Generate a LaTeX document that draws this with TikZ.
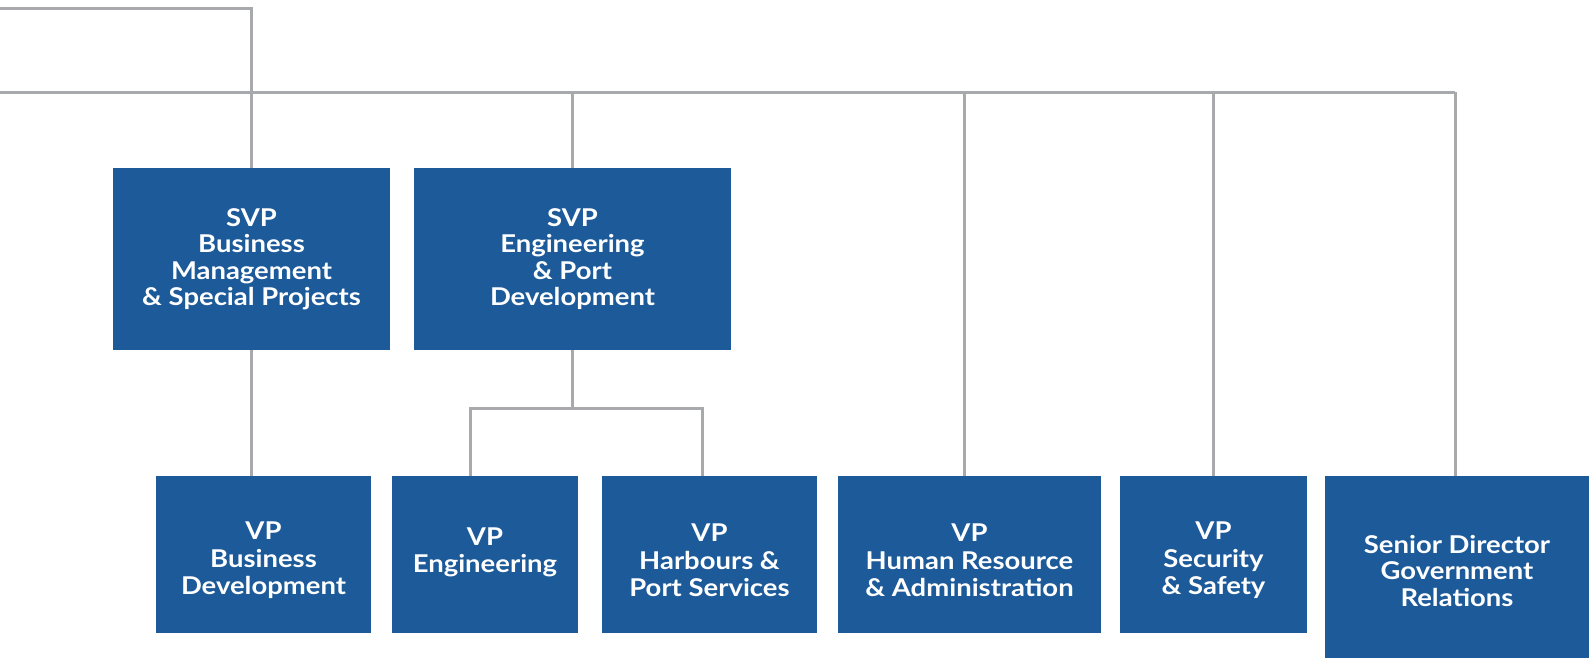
\documentclass[tikz,border=0pt]{standalone}
\usepackage{fontspec}
\setmainfont{Lato}[FakeStretch=1.12]
\definecolor{boxblue}{HTML}{1C5A99}
\definecolor{linegray}{HTML}{A7A9AC}
\newcommand\toppad[1]{\rule{0pt}{#1}}
\newcommand\botpad[1]{\rule[-#1]{0pt}{0pt}}
\begin{document}
\begin{tikzpicture}[x=1pt,y=-1pt,
  orgbox/.style={fill=boxblue, draw=none, text=white, inner sep=0pt, align=center,
    font=\fontsize{24.5}{26.5}\selectfont\bfseries},
  lowbox/.style={orgbox, minimum height=157pt,
    font=\fontsize{24.5}{27.5}\selectfont\bfseries},
  conn/.style={draw=linegray, line width=3pt}]
\useasboundingbox (0,0) rectangle (1591,665);
% nodes
\node[orgbox, minimum width=277pt, minimum height=182pt] (svp1) at (251.5,259) {SVP\\Business\\Management\\\& Special Projects};
\node[orgbox, minimum width=317pt, minimum height=182pt] (svp2) at (572.5,259) {SVP\\Engineering\\\& Port\\Development};
\node[lowbox, minimum width=215pt] (bd) at (263.5,554.5) {\toppad{29.5pt}VP\\Business\\Development};
\node[lowbox, minimum width=186pt] (eng) at (485,554.5) {VP\\Engineering\botpad{9pt}};
\node[lowbox, minimum width=215pt] (harb) at (709.5,554.5) {\toppad{29.5pt}VP\\Harbours \&\\Port Services};
\node[lowbox, minimum width=263pt] (hr) at (969.5,554.5) {\toppad{29.5pt}VP\\Human Resource\\\& Administration};
\node[lowbox, minimum width=187pt] (sec) at (1213.5,554.5) {\toppad{29.5pt}VP\\Security\\\& Safety};
\node[orgbox, minimum width=264pt, minimum height=182pt] (sd) at (1457,567) {\toppad{26pt}Senior Director\\Government\\Relations};
\coordinate (topL) at (0,8);
\coordinate (busL) at (0,92);
\coordinate (busR) at (1455,92);
\coordinate (subY) at (0,408);
% connectors
\draw[conn] (topL) -| (svp1.north);
\draw[conn] (svp1.south) -- (svp1.south |- bd.north);
\draw[conn] (busL) -- (busR);
\draw[conn] (svp2.north |- busL) -- (svp2.north);
\draw[conn] ([xshift=-5.5pt]hr.north |- busL) -- ([xshift=-5.5pt]hr.north);
\draw[conn] (sec.north |- busL) -- (sec.north);
\draw[conn] (busR) -- (busR |- sd.north);
\draw[conn] (svp2.south) -- (svp2.south |- subY);
\draw[conn] ([xshift=-15pt]eng.north) -- ([xshift=-15pt]eng.north |- subY) -- ([xshift=-7.5pt]harb.north |- subY) -- ([xshift=-7.5pt]harb.north);
\end{tikzpicture}
\end{document}
